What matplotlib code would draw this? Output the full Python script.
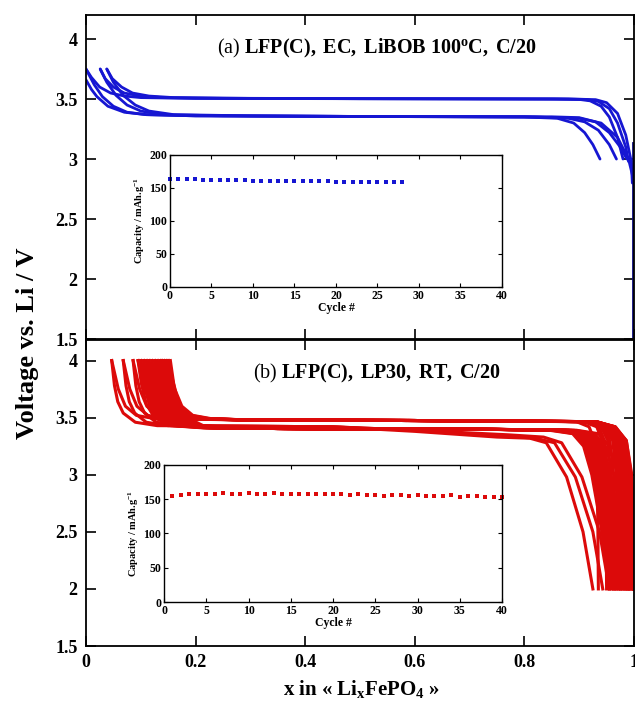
import matplotlib
matplotlib.use('Agg')
import matplotlib.pyplot as plt

plt.rcParams['font.family'] = ['Liberation Serif', 'DejaVu Serif']
plt.rcParams['mathtext.fontset'] = 'custom'
plt.rcParams['mathtext.rm'] = 'Liberation Serif'
plt.rcParams['mathtext.it'] = 'Liberation Serif:italic'
plt.rcParams['mathtext.bf'] = 'Liberation Serif:bold'

BLUE = '#1616d2'
NAVY = '#0a0a80'
RED = '#dc0a0a'

# ---------------- panel (a) : blue voltage curves ----------------
a_charge_x = [
    [0.980, 0.970, 0.955, 0.940, 0.920, 0.900, 0.850, 0.500, 0.200, 0.100, 0.070, 0.045, 0.025, 0.010, 0.000],
    [0.990, 0.985, 0.970, 0.955, 0.935, 0.910, 0.860, 0.500, 0.250, 0.140, 0.100, 0.070, 0.050, 0.035, 0.026],
    [0.997, 0.995, 0.985, 0.970, 0.950, 0.930, 0.880, 0.500, 0.300, 0.160, 0.115, 0.085, 0.065, 0.048, 0.038],
]
a_charge_v = [
    [3.00, 3.18, 3.35, 3.44, 3.485, 3.497, 3.500, 3.503, 3.505, 3.512, 3.525, 3.55, 3.60, 3.68, 3.75],
    [2.98, 3.10, 3.30, 3.42, 3.480, 3.497, 3.500, 3.503, 3.506, 3.512, 3.525, 3.55, 3.60, 3.67, 3.75],
    [2.80, 2.98, 3.20, 3.38, 3.470, 3.495, 3.501, 3.503, 3.506, 3.512, 3.525, 3.55, 3.60, 3.67, 3.75],
]
a_dis_x = [
    [0.000, 0.015, 0.030, 0.050, 0.075, 0.110, 0.200, 0.500, 0.800, 0.860, 0.890, 0.910, 0.925, 0.938],
    [0.026, 0.038, 0.055, 0.075, 0.100, 0.140, 0.250, 0.500, 0.820, 0.880, 0.910, 0.935, 0.955, 0.968],
    [0.038, 0.050, 0.068, 0.090, 0.115, 0.160, 0.300, 0.500, 0.850, 0.900, 0.930, 0.955, 0.975, 0.987],
    [0.000, 0.010, 0.020, 0.040, 0.070, 0.110, 0.200, 0.500, 0.800, 0.900, 0.940, 0.970, 0.990, 0.998],
]
a_dis_v = [
    [3.75, 3.62, 3.52, 3.44, 3.39, 3.37, 3.36, 3.355, 3.350, 3.34, 3.30, 3.22, 3.12, 3.00],
    [3.75, 3.64, 3.53, 3.45, 3.40, 3.37, 3.36, 3.355, 3.350, 3.34, 3.31, 3.24, 3.12, 3.00],
    [3.75, 3.64, 3.53, 3.45, 3.40, 3.37, 3.36, 3.355, 3.352, 3.345, 3.31, 3.22, 3.10, 3.00],
    [3.66, 3.58, 3.52, 3.44, 3.39, 3.37, 3.36, 3.355, 3.352, 3.34, 3.30, 3.18, 3.00, 2.85],
]
a_first_x = [0.998, 0.998]
a_first_v = [3.13, 1.50]

# ---------------- panel (b) : red voltage curves ----------------
b_early_x = [
    [0.047, 0.052, 0.058, 0.068, 0.090, 0.130, 0.300, 0.450, 0.600, 0.750, 0.810, 0.840, 0.877, 0.907, 0.925],
    [0.068, 0.073, 0.079, 0.089, 0.110, 0.150, 0.300, 0.450, 0.600, 0.760, 0.820, 0.855, 0.893, 0.925, 0.943],
    [0.086, 0.091, 0.097, 0.107, 0.128, 0.168, 0.300, 0.450, 0.600, 0.770, 0.835, 0.868, 0.905, 0.937, 0.955],
]
b_early_v = [
    [4.0, 3.78, 3.64, 3.54, 3.46, 3.43, 3.425, 3.42, 3.38, 3.33, 3.32, 3.28, 2.98, 2.50, 2.0],
    [4.0, 3.78, 3.64, 3.54, 3.46, 3.43, 3.425, 3.42, 3.39, 3.34, 3.32, 3.28, 2.98, 2.50, 2.0],
    [4.0, 3.78, 3.64, 3.54, 3.46, 3.43, 3.425, 3.42, 3.39, 3.35, 3.33, 3.28, 2.98, 2.50, 2.0],
]
b_dis_x = [
    [0.095, 0.101, 0.110, 0.125, 0.155, 0.215, 0.350, 0.500, 0.700, 0.850, 0.892, 0.912, 0.927, 0.942, 0.962],
    [0.100, 0.106, 0.115, 0.130, 0.160, 0.220, 0.350, 0.500, 0.700, 0.845, 0.888, 0.908, 0.923, 0.938, 0.958],
    [0.105, 0.111, 0.120, 0.135, 0.165, 0.225, 0.350, 0.500, 0.700, 0.860, 0.898, 0.918, 0.933, 0.948, 0.968],
    [0.110, 0.116, 0.125, 0.140, 0.170, 0.230, 0.350, 0.500, 0.700, 0.855, 0.895, 0.915, 0.930, 0.945, 0.965],
    [0.115, 0.121, 0.130, 0.145, 0.175, 0.235, 0.350, 0.500, 0.700, 0.870, 0.905, 0.925, 0.940, 0.955, 0.975],
    [0.120, 0.126, 0.135, 0.150, 0.180, 0.240, 0.350, 0.500, 0.700, 0.862, 0.902, 0.922, 0.937, 0.952, 0.972],
    [0.125, 0.131, 0.140, 0.155, 0.185, 0.245, 0.350, 0.500, 0.700, 0.875, 0.912, 0.932, 0.947, 0.962, 0.982],
    [0.130, 0.136, 0.145, 0.160, 0.190, 0.250, 0.350, 0.500, 0.700, 0.868, 0.908, 0.928, 0.943, 0.958, 0.978],
    [0.135, 0.141, 0.150, 0.165, 0.195, 0.255, 0.350, 0.500, 0.700, 0.880, 0.918, 0.938, 0.953, 0.968, 0.988],
    [0.138, 0.144, 0.153, 0.168, 0.198, 0.258, 0.350, 0.500, 0.700, 0.875, 0.915, 0.935, 0.950, 0.965, 0.985],
    [0.142, 0.148, 0.157, 0.172, 0.202, 0.262, 0.350, 0.500, 0.700, 0.885, 0.923, 0.943, 0.958, 0.973, 0.993],
    [0.146, 0.152, 0.161, 0.176, 0.206, 0.266, 0.350, 0.500, 0.700, 0.880, 0.921, 0.941, 0.956, 0.971, 0.991],
    [0.150, 0.156, 0.165, 0.180, 0.210, 0.270, 0.350, 0.500, 0.700, 0.890, 0.928, 0.948, 0.963, 0.978, 0.998],
    [0.154, 0.160, 0.169, 0.184, 0.214, 0.274, 0.350, 0.500, 0.700, 0.895, 0.935, 0.955, 0.970, 0.985, 1.000],
]
b_dis_v = [4.0, 3.80, 3.62, 3.50, 3.43, 3.41, 3.405, 3.40, 3.40, 3.39, 3.36, 3.25, 3.00, 2.60, 2.0]

b_charge_x = [
    [0.935, 0.934, 0.932, 0.928, 0.918, 0.895, 0.600, 0.300, 0.127, 0.092, 0.072, 0.059, 0.047],
    [0.950, 0.949, 0.947, 0.942, 0.932, 0.908, 0.600, 0.300, 0.148, 0.113, 0.093, 0.080, 0.068],
    [0.962, 0.961, 0.958, 0.952, 0.940, 0.915, 0.600, 0.300, 0.166, 0.131, 0.111, 0.098, 0.086],
    [0.972, 0.971, 0.968, 0.961, 0.948, 0.922, 0.600, 0.300, 0.175, 0.140, 0.120, 0.107, 0.095],
    [0.955, 0.954, 0.952, 0.946, 0.936, 0.912, 0.600, 0.300, 0.180, 0.145, 0.125, 0.112, 0.100],
    [0.980, 0.979, 0.976, 0.968, 0.955, 0.928, 0.600, 0.300, 0.185, 0.150, 0.130, 0.117, 0.105],
    [0.967, 0.966, 0.963, 0.956, 0.944, 0.918, 0.600, 0.300, 0.190, 0.155, 0.135, 0.122, 0.110],
    [0.987, 0.986, 0.983, 0.975, 0.960, 0.932, 0.600, 0.300, 0.195, 0.160, 0.140, 0.127, 0.115],
    [0.976, 0.975, 0.972, 0.964, 0.951, 0.924, 0.600, 0.300, 0.200, 0.165, 0.145, 0.132, 0.120],
    [0.992, 0.991, 0.988, 0.980, 0.963, 0.932, 0.600, 0.300, 0.205, 0.170, 0.150, 0.137, 0.125],
    [0.984, 0.983, 0.980, 0.972, 0.958, 0.930, 0.600, 0.300, 0.210, 0.175, 0.155, 0.142, 0.130],
    [0.996, 0.995, 0.992, 0.983, 0.965, 0.932, 0.600, 0.300, 0.215, 0.180, 0.160, 0.147, 0.135],
    [0.990, 0.989, 0.986, 0.978, 0.962, 0.931, 0.600, 0.300, 0.218, 0.183, 0.163, 0.150, 0.138],
    [0.999, 0.998, 0.995, 0.986, 0.966, 0.930, 0.600, 0.300, 0.222, 0.187, 0.167, 0.154, 0.142],
    [0.998, 0.997, 0.994, 0.985, 0.966, 0.930, 0.600, 0.300, 0.226, 0.191, 0.171, 0.158, 0.146],
    [1.000, 0.999, 0.996, 0.986, 0.964, 0.926, 0.600, 0.300, 0.230, 0.195, 0.175, 0.162, 0.150],
]
b_charge_v = [2.0, 2.6, 3.0, 3.3, 3.42, 3.465, 3.475, 3.48, 3.49, 3.52, 3.60, 3.75, 4.0]

# ---------------- insets : capacity vs cycle ----------------
a_cycles = list(range(0, 29))
a_capacity = [163, 163.5, 164, 163, 162.5, 162, 162, 161.5, 161.5, 161.5, 161, 161, 160.5,
              160.5, 160.5, 160.5, 160, 160, 160, 160, 159.5, 159.5, 159.5, 159, 159, 159,
              158.5, 158.5, 158.5]
b_cycles = list(range(1, 41))
b_capacity = [154.8, 156.3, 157.3, 158.2, 157.3, 157.7, 159.2, 158.2, 158.2, 159.2,
              158.2, 158.2, 159.2, 158.2, 158.2, 157.3, 158.2, 158.2, 157.3, 157.3,
              157.3, 156.3, 157.3, 156.3, 155.8, 154.8, 155.8, 155.8, 154.8, 156.3,
              154.8, 154.8, 154.8, 155.8, 153.9, 154.8, 154.8, 153.9, 153.9, 153.9]

v_ticks = [1.5, 2, 2.5, 3, 3.5, 4]
v_ticklabels = ['1.5', '2', '2.5', '3', '3.5', '4']
x_ticks = [0, 0.2, 0.4, 0.6, 0.8, 1]
x_ticklabels = ['0', '0.2', '0.4', '0.6', '0.8', '1']
cap_ticks = [0, 50, 100, 150, 200]
cyc_ticks = [0, 5, 10, 15, 20, 25, 30, 35, 40]

title_a = r'$\mathrm{(a)}\ \mathbf{LFP(C),\ EC,\ LiBOB\ 100^{o}C,\ C/20}$'
title_b = r'$\mathrm{(b)}\ \mathbf{LFP(C),\ LP30,\ RT,\ C/20}$'

fig = plt.figure(figsize=(6.35, 7.1), dpi=100)

ax_a = fig.add_axes([0.1354, 0.5225, 0.8630, 0.4563])
ax_b = fig.add_axes([0.1354, 0.0901, 0.8630, 0.4310])


def style_main(ax, ylim_top, show_x):
    ax.set_xlim(0, 1)
    ax.set_ylim(1.5, ylim_top)
    ax.set_yticks(v_ticks)
    ax.set_yticklabels(v_ticklabels)
    ax.set_xticks(x_ticks)
    if show_x:
        ax.set_xticklabels(x_ticklabels)
    else:
        ax.set_xticklabels([])
    ax.tick_params(direction='in', top=True, right=True, length=7, width=1.2,
                   labelsize=13, pad=6)
    for lab in ax.get_xticklabels() + ax.get_yticklabels():
        lab.set_fontweight('bold')
    for s in ax.spines.values():
        s.set_linewidth(1.3)


for xs, vs in zip(a_charge_x, a_charge_v):
    ax_a.plot(xs, vs, color=BLUE, lw=2.0, solid_capstyle='round')
for xs, vs in zip(a_dis_x, a_dis_v):
    ax_a.plot(xs, vs, color=BLUE, lw=2.0, solid_capstyle='round')
ax_a.plot(a_first_x, a_first_v, color=NAVY, lw=2.0)
style_main(ax_a, 4.2, False)
ax_a.text(0.531, 0.898, title_a, transform=ax_a.transAxes, ha='center', va='center',
          fontsize=14.5)

for xs, vs in zip(b_early_x, b_early_v):
    ax_b.plot(xs, vs, color=RED, lw=2.2)
for xs in b_dis_x:
    ax_b.plot(xs, b_dis_v, color=RED, lw=2.2)
for xs in b_charge_x:
    ax_b.plot(xs, b_charge_v, color=RED, lw=2.2)
style_main(ax_b, 4.18, True)
ax_b.text(0.531, 0.892, title_b, transform=ax_b.transAxes, ha='center', va='center',
          fontsize=14.5)

fig.text(0.044, 0.517, 'Voltage vs. Li / V', rotation=90, ha='center', va='center',
         fontsize=19, fontweight='bold')
fig.text(0.570, 0.030, r'x in « Li$_{\mathbf{x}}$FePO$_{\mathbf{4}}$ »', ha='center',
         va='center', fontsize=15, fontweight='bold')


def style_inset(ax):
    ax.set_xlim(0, 40)
    ax.set_ylim(0, 200)
    ax.set_xticks(cyc_ticks)
    ax.set_yticks(cap_ticks)
    ax.tick_params(direction='in', top=True, right=True, length=3, width=0.8,
                   labelsize=8.5, pad=2)
    for lab in ax.get_xticklabels() + ax.get_yticklabels():
        lab.set_fontweight('bold')
    for s in ax.spines.values():
        s.set_linewidth(1.0)
    ax.set_xlabel('Cycle #', fontsize=8.5, fontweight='bold', labelpad=0)
    ax.set_ylabel(r'Capacity / mAh.g$^{\mathbf{-1}}$', fontsize=7.5, fontweight='bold',
                  labelpad=2)


in_a = fig.add_axes([0.2677, 0.5958, 0.5228, 0.1859])
in_a.plot(a_cycles, a_capacity, ls='none', marker='s', ms=3.3, color=BLUE,
          markeredgewidth=0, clip_on=False)
style_inset(in_a)

in_b = fig.add_axes([0.2583, 0.1521, 0.5323, 0.1930])
in_b.plot(b_cycles, b_capacity, ls='none', marker='s', ms=3.3, color=RED,
          markeredgewidth=0, clip_on=False)
style_inset(in_b)

fig.savefig('out.png', dpi=100)
